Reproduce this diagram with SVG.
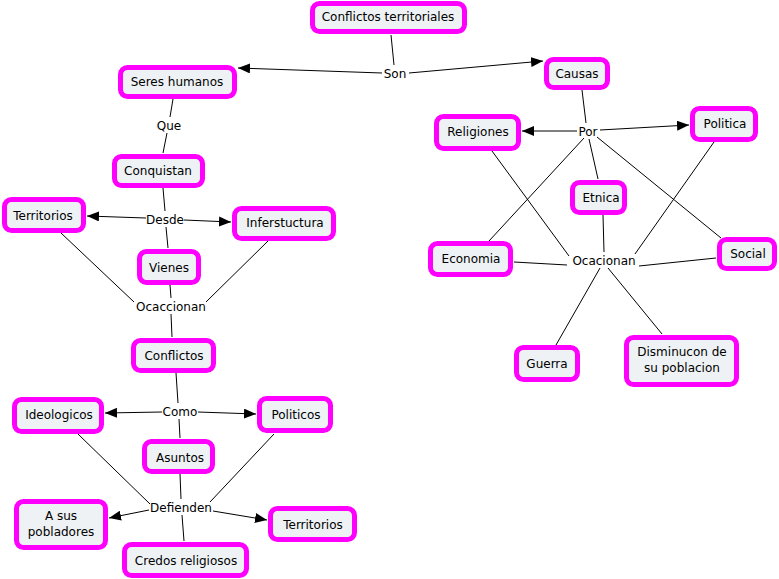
<svg xmlns="http://www.w3.org/2000/svg" width="779" height="579" viewBox="0 0 779 579">
<style>
.n rect{fill:#eef2f5;stroke:#ff00ff;stroke-width:5}
text{font-family:"DejaVu Sans",Verdana,sans-serif;font-size:12px;fill:#000;text-anchor:middle}
.c line{stroke:#000;stroke-width:1}
.a{marker-end:url(#ah)}
</style>
<defs>
<marker id="ah" markerUnits="userSpaceOnUse" markerWidth="12" markerHeight="10" refX="12" refY="5" orient="auto">
<path d="M0,0 L12,5 L0,10 Z" fill="#000"/>
</marker>
</defs>
<g class="c" id="connectors">
<line x1="391" y1="35" x2="394" y2="65"/>
<line class="a" x1="382" y1="73" x2="238" y2="68"/>
<line class="a" x1="409" y1="73" x2="543" y2="61"/>
<line x1="173" y1="99" x2="170" y2="117"/>
<line x1="167" y1="133" x2="163" y2="153"/>
<line x1="582" y1="90" x2="586" y2="123"/>
<line class="a" x1="577" y1="131" x2="522" y2="131"/>
<line class="a" x1="600" y1="130" x2="689" y2="125"/>
<line x1="589" y1="139" x2="598" y2="179"/>
<line x1="584" y1="138" x2="489" y2="241"/>
<line x1="597" y1="137" x2="721" y2="238"/>
<line x1="492" y1="151" x2="569" y2="256"/>
<line x1="603" y1="215" x2="604" y2="252"/>
<line x1="714" y1="142" x2="635" y2="254"/>
<line x1="514" y1="262" x2="567" y2="265"/>
<line x1="716" y1="258" x2="639" y2="266"/>
<line x1="600" y1="268" x2="556" y2="345"/>
<line x1="608" y1="268" x2="662" y2="334"/>
<line x1="163" y1="188" x2="165" y2="211"/>
<line class="a" x1="146" y1="218" x2="87" y2="216"/>
<line class="a" x1="184" y1="220" x2="231" y2="222"/>
<line x1="166" y1="227" x2="168" y2="248"/>
<line x1="61" y1="233" x2="134" y2="302"/>
<line x1="170" y1="285" x2="171" y2="298"/>
<line x1="268" y1="241" x2="206" y2="302"/>
<line x1="171" y1="314" x2="172" y2="337"/>
<line x1="176" y1="373" x2="178" y2="403"/>
<line class="a" x1="162" y1="412" x2="105" y2="413"/>
<line class="a" x1="198" y1="412" x2="256" y2="414"/>
<line x1="179" y1="419" x2="180" y2="438"/>
<line x1="78" y1="434" x2="150" y2="504"/>
<line x1="180" y1="474" x2="181" y2="499"/>
<line x1="274" y1="434" x2="210" y2="502"/>
<line class="a" x1="149" y1="510" x2="109" y2="518"/>
<line class="a" x1="213" y1="511" x2="267" y2="520"/>
<line x1="182" y1="515" x2="184" y2="541"/>
</g>
<g id="n1" class="n"><rect x="312.5" y="3.5" width="152" height="28" rx="7"/><text x="388" y="21">Conflictos territoriales</text></g>
<g id="n2" class="n"><rect x="120.5" y="67.5" width="114" height="29" rx="7"/><text x="177" y="86">Seres humanos</text></g>
<g id="n3" class="n"><rect x="546.5" y="59.5" width="61" height="28" rx="7"/><text x="577" y="78">Causas</text></g>
<g id="n4" class="n"><rect x="114.5" y="156.5" width="88" height="29" rx="7"/><text x="158" y="175">Conquistan</text></g>
<g id="n5" class="n"><rect x="436.5" y="116.5" width="82" height="32" rx="7"/><text x="478" y="136">Religiones</text></g>
<g id="n6" class="n"><rect x="692.5" y="108.5" width="63" height="31" rx="7"/><text x="725" y="128">Politica</text></g>
<g id="n7" class="n"><rect x="572.5" y="182.5" width="52" height="30" rx="7"/><text x="601" y="202">Etnica</text></g>
<g id="n8" class="n"><rect x="4.5" y="199.5" width="79" height="31" rx="7"/><text x="43" y="220">Territorios</text></g>
<g id="n9" class="n"><rect x="234.5" y="208.5" width="99" height="30" rx="7"/><text x="285" y="227">Inferstuctura</text></g>
<g id="n10" class="n"><rect x="139.5" y="251.5" width="59" height="31" rx="7"/><text x="169" y="272">Vienes</text></g>
<g id="n11" class="n"><rect x="430.5" y="243.5" width="80" height="31" rx="7"/><text x="471" y="263">Economia</text></g>
<g id="n12" class="n"><rect x="719.5" y="239.5" width="55" height="29" rx="7"/><text x="748" y="258">Social</text></g>
<g id="n13" class="n"><rect x="133.5" y="340.5" width="80" height="30" rx="7"/><text x="174" y="360">Conflictos</text></g>
<g id="n14" class="n"><rect x="516.5" y="347.5" width="61" height="32" rx="7"/><text x="547" y="368">Guerra</text></g>
<g id="n15" class="n"><rect x="626.5" y="337.5" width="110" height="47" rx="7"/><text x="682" y="356">Disminucon de</text><text x="682" y="372">su poblacion</text></g>
<g id="n16" class="n"><rect x="14.5" y="399.5" width="87" height="32" rx="7"/><text x="59" y="419">Ideologicos</text></g>
<g id="n17" class="n"><rect x="259.5" y="398.5" width="71" height="32" rx="7"/><text x="296" y="419">Politicos</text></g>
<g id="n18" class="n"><rect x="144.5" y="441.5" width="68" height="30" rx="7"/><text x="180" y="462">Asuntos</text></g>
<g id="n19" class="n"><rect x="16.5" y="501.5" width="89" height="46" rx="7"/><text x="61" y="520">A sus</text><text x="61" y="536">pobladores</text></g>
<g id="n20" class="n"><rect x="270.5" y="508.5" width="84" height="31" rx="7"/><text x="313" y="529">Territorios</text></g>
<g id="n21" class="n"><rect x="124.5" y="544.5" width="122" height="31" rx="7"/><text x="186" y="565">Credos religiosos</text></g>
<g id="labels">
<text x="395" y="78">Son</text>
<text x="169" y="130">Que</text>
<text x="588" y="136">Por</text>
<text x="165" y="224">Desde</text>
<text x="171" y="311">Ocaccionan</text>
<text x="604" y="265">Ocacionan</text>
<text x="180" y="416">Como</text>
<text x="181" y="512">Defienden</text>
</g>
</svg>
